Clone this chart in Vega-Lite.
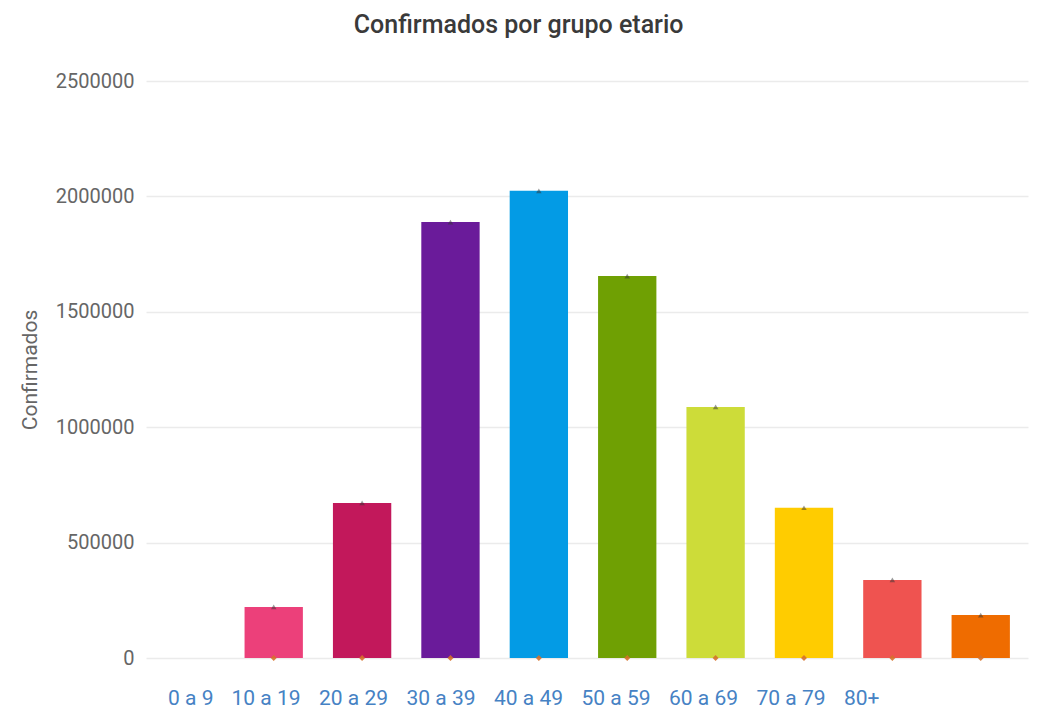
{
  "$schema": "https://vega.github.io/schema/vega-lite/v6.json",
  "width": 882,
  "height": 577,
  "autosize": {"type": "none"},
  "padding": {"left": 146, "top": 81, "right": 14, "bottom": 66},
  "background": "white",
  "config": {"view": {"stroke": null}},
  "title": {"text": "Confirmados por grupo etario", "frame": "bounds", "anchor": "middle", "fontSize": 25, "font": "Roboto", "fontWeight": 500, "color": "#3a3a3a", "offset": 33, "dx": -5},
  "data": {"values": [
    {"grupo": "0 a 9", "confirmados": 221000},
    {"grupo": "10 a 19", "confirmados": 672000},
    {"grupo": "20 a 29", "confirmados": 1889000},
    {"grupo": "30 a 39", "confirmados": 2024000},
    {"grupo": "40 a 49", "confirmados": 1655000},
    {"grupo": "50 a 59", "confirmados": 1088000},
    {"grupo": "60 a 69", "confirmados": 651000},
    {"grupo": "70 a 79", "confirmados": 338000},
    {"grupo": "80+", "confirmados": 186000}
  ]},
  "encoding": {
    "x": {"field": "grupo", "type": "nominal", "sort": null,
      "scale": {"domain": [" ", "0 a 9", "10 a 19", "20 a 29", "30 a 39", "40 a 49", "50 a 59", "60 a 69", "70 a 79", "80+"], "paddingInner": 0.34, "paddingOuter": 0.16, "align": 0.36},
      "axis": {"labels": false, "ticks": false, "domain": false, "title": null, "grid": false}},
    "y": {"field": "confirmados", "type": "quantitative",
      "scale": {"domain": [0, 2500000]},
      "axis": {"title": "Confirmados", "values": [0, 500000, 1000000, 1500000, 2000000, 2500000], "format": "d",
        "domain": false, "ticks": false, "labelPadding": 12, "labelFont": "Roboto", "labelFontSize": 20, "labelColor": "#666666",
        "titleFont": "Roboto", "titleFontSize": 21, "titleFontWeight": "normal", "titleColor": "#666666", "titlePadding": 15,
        "gridColor": "#ebebeb", "gridWidth": 1.5}}
  },
  "layer": [
    {
      "mark": {"type": "bar"},
      "encoding": {
        "color": {"field": "grupo", "type": "nominal", "sort": null,
          "scale": {"domain": ["0 a 9", "10 a 19", "20 a 29", "30 a 39", "40 a 49", "50 a 59", "60 a 69", "70 a 79", "80+"],
            "range": ["#ec407a", "#c2185b", "#6a1b9a", "#039be5", "#6fa003", "#cddc39", "#ffcc00", "#ef5350", "#ef6c00"]},
          "legend": {"title": null, "orient": "none", "direction": "horizontal", "legendX": 6, "legendY": 607,
            "gridAlign": "each", "symbolSize": 1, "symbolOpacity": 0, "symbolStrokeWidth": 0, "labelOffset": -5, "columnPadding": 1.5,
            "labelFont": "Roboto", "labelFontSize": 21, "labelColor": "#4682c4"}}
      }
    },
    {
      "mark": {"type": "point", "shape": "triangle-up", "size": 30, "filled": true, "color": "#333333", "opacity": 0.5},
      "encoding": {}
    },
    {
      "mark": {"type": "point", "shape": "diamond", "size": 35, "filled": true, "color": "#d5712a", "opacity": 0.9},
      "encoding": {"y": {"datum": 0}}
    }
  ]
}
